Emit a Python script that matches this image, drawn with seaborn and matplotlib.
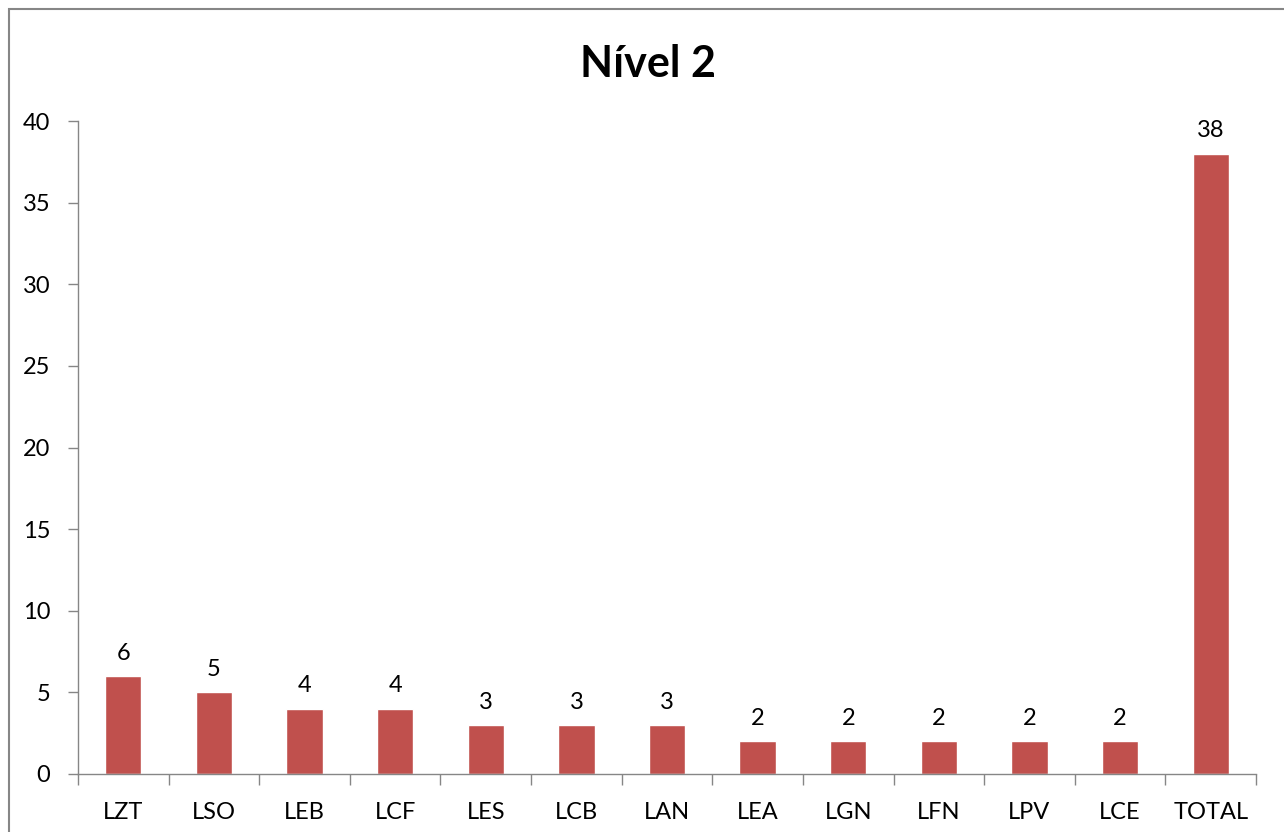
import matplotlib
matplotlib.use("Agg")
import matplotlib.pyplot as plt
import seaborn as sns
import numpy as np
from matplotlib.patches import Rectangle

categories = ["LZT", "LSO", "LEB", "LCF", "LES", "LCB", "LAN", "LEA", "LGN", "LFN", "LPV", "LCE", "TOTAL"]
values = [6, 5, 4, 4, 3, 3, 3, 2, 2, 2, 2, 2, 38]

sns.set_style("white")
plt.rcParams["font.family"] = ["Lato", "DejaVu Sans"]
plt.rcParams["text.color"] = "black"
plt.rcParams["xtick.labelcolor"] = "black"
plt.rcParams["ytick.labelcolor"] = "black"

fig = plt.figure(figsize=(12.84, 8.32), dpi=100)
ax = fig.add_axes([78 / 1284, 1 - 774 / 832, (1256 - 78) / 1284, (774 - 121) / 832])

sns.barplot(x=categories, y=values, color="#C0504D", width=0.4, saturation=1, ax=ax)

for c in ax.containers:
    ax.bar_label(c, padding=9, fontsize=17, color="black")

ax.set_ylim(0, 40)
ax.set_xlim(-0.5, len(categories) - 0.5)
ax.set_yticks(np.arange(0, 41, 5))
ax.set_xticks(np.arange(-0.5, len(categories), 1), minor=True)
ax.tick_params(axis="x", which="major", bottom=True, length=0, pad=20, labelsize=17)
ax.tick_params(axis="x", which="minor", bottom=True, length=8, width=1, color="#868686", direction="out")
ax.tick_params(axis="y", which="major", left=True, length=7, width=1, color="#868686",
               direction="out", labelsize=17, pad=13)
ax.set_xlabel("")
ax.set_ylabel("")
for s in ["top", "right"]:
    ax.spines[s].set_visible(False)
for s in ["left", "bottom"]:
    ax.spines[s].set_color("#868686")
    ax.spines[s].set_linewidth(1)

fig.text(648 / 1284, 1 - 64 / 832, "Nível 2", ha="center", va="center",
         fontsize=31, fontweight="bold")

# outer chart frame (cropped on the right and bottom)
fig.patches.append(Rectangle((9 / 1284, -0.1), 1.2, 1 - 9 / 832 + 0.1,
                             transform=fig.transFigure, fill=False,
                             edgecolor="#868686", linewidth=1.5))

fig.savefig("out.png", dpi=100)
